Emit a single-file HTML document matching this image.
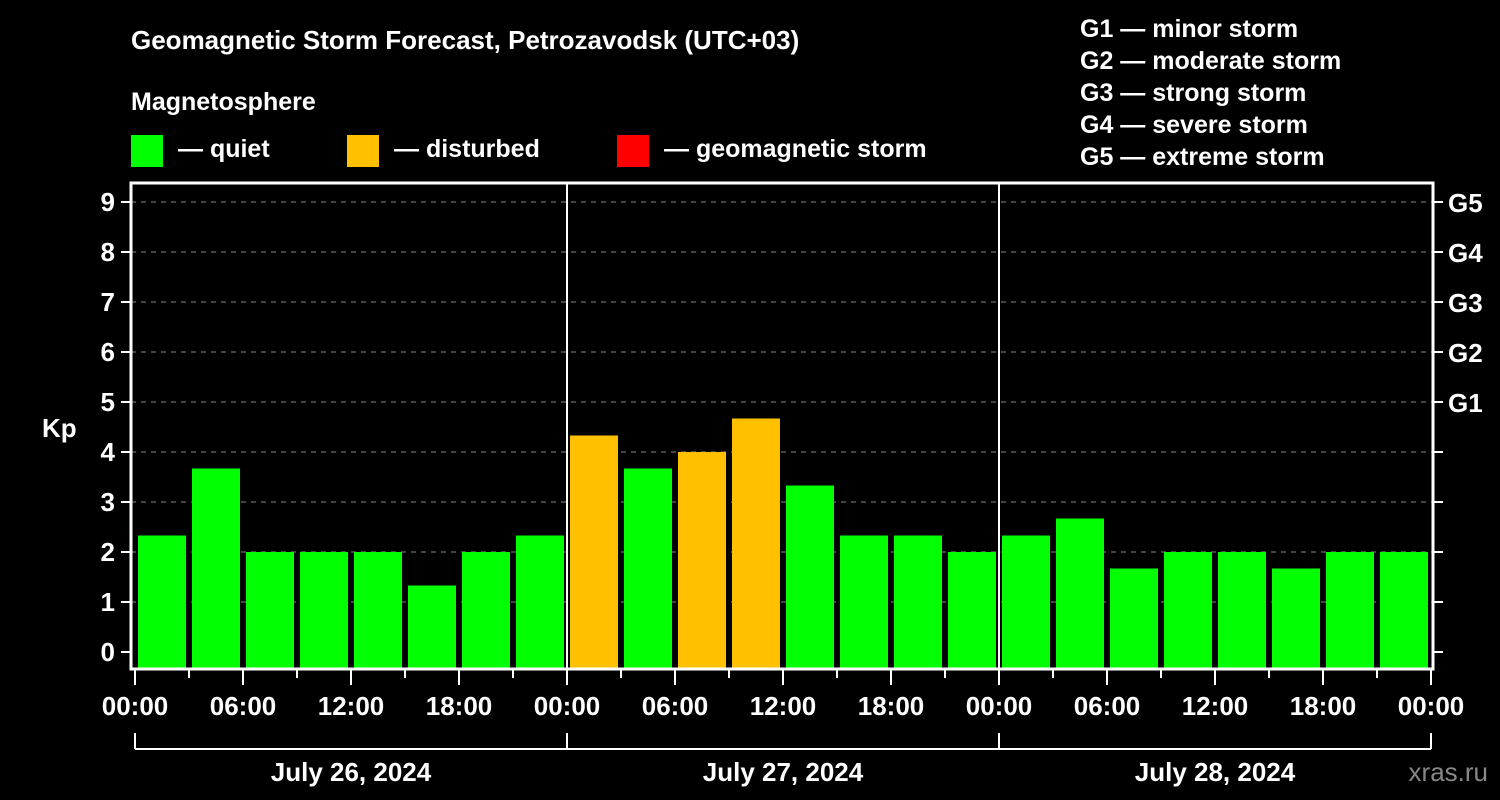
<!DOCTYPE html>
<html><head><meta charset="utf-8"><style>
body{margin:0;background:#000;width:1500px;height:800px;overflow:hidden}
svg{display:block;font-family:"Liberation Sans",sans-serif;font-weight:bold}
</style></head><body>
<svg id="c" width="1500" height="800">
<rect width="1500" height="800" fill="#000"/>
<text x="131" y="49" fill="#fff" font-size="26">Geomagnetic Storm Forecast, Petrozavodsk (UTC+03)</text>
<text x="131" y="110" fill="#fff" font-size="25">Magnetosphere</text>
<g><rect x="131" y="135" width="32" height="32" fill="#00ff00"/><text x="178" y="157" fill="#fff" font-size="25">— quiet</text></g>
<g><rect x="347" y="135" width="32" height="32" fill="#ffc000"/><text x="394" y="157" fill="#fff" font-size="25">— disturbed</text></g>
<g><rect x="617" y="135" width="32" height="32" fill="#ff0000"/><text x="664" y="157" fill="#fff" font-size="25">— geomagnetic storm</text></g>
<g fill="#fff" font-size="25">
<text x="1080" y="37">G1 — minor storm</text>
<text x="1080" y="69">G2 — moderate storm</text>
<text x="1080" y="101">G3 — strong storm</text>
<text x="1080" y="133">G4 — severe storm</text>
<text x="1080" y="165">G5 — extreme storm</text>
</g>
<text x="42" y="437" fill="#fff" font-size="26">Kp</text>
<text x="1488" y="781" fill="#888" font-size="26" text-anchor="end" font-weight="normal">xras.ru</text>
<g id="plot"></g>
</svg>
<script>
const values=[2.33,3.67,2,2,2,1.33,2,2.33, 4.33,3.67,4,4.67,3.33,2.33,2.33,2, 2.33,2.67,1.67,2,2,1.67,2,2];
const days=["July 26, 2024","July 27, 2024","July 28, 2024"];
const hourLabels=["00:00","06:00","12:00","18:00"];
const gLabels=["G1","G2","G3","G4","G5"];
const yTicks=[0,1,2,3,4,5,6,7,8,9];
const NS="http://www.w3.org/2000/svg";
const g=document.getElementById('plot');
const X0=135,DAY=432,L=131,R=1433,T=183,B=669;
const xs=h=>X0+h*DAY/24;
const ys=v=>652-v*50;
function mk(t,a){const e=document.createElementNS(NS,t);for(const k in a)e.setAttribute(k,a[k]);g.appendChild(e);return e;}
function col(v){return v>=5?'#ff0000':v>=4?'#ffc000':'#00ff00';}
yTicks.forEach(v=>{
 if(v>0){const l=mk('line',{x1:L,x2:R,y1:ys(v),y2:ys(v),stroke:'#888','stroke-dasharray':'5,5','stroke-width':1});
 
 }
 const tk=mk('line',{x1:L-10,x2:L,y1:ys(v),y2:ys(v),stroke:'#fff','stroke-width':2});
 
 
 const tr=mk('line',{x1:R,x2:R+10,y1:ys(v),y2:ys(v),stroke:'#fff','stroke-width':2});
 
 
 const t=mk('text',{x:L-16,y:ys(v)+9,fill:'#fff','font-size':26,'text-anchor':'end'});t.textContent=v;
 
 
});
gLabels.forEach((s,i)=>{const t=mk('text',{x:R+15,y:ys(5+i)+10,fill:'#fff','font-size':26});t.textContent=s;
 
 });
values.forEach((v,i)=>{const x=xs(i*3)+3,y=ys(v);
 const r=mk('rect',{x:x,y:y,width:DAY/8-6,height:B-1-y,fill:col(v)});
 
 });
[1,2].forEach(d=>{const l=mk('line',{x1:xs(d*24),x2:xs(d*24),y1:T,y2:B,stroke:'#fff','stroke-width':2});
 
 });
const f=mk('rect',{x:L,y:T,width:R-L,height:B-T,fill:'none',stroke:'#fff','stroke-width':3});


for(let h=0;h<=72;h+=3){const major=h%6==0;
 const l=mk('line',{x1:xs(h),x2:xs(h),y1:B,y2:B+(major?16:9),stroke:'#fff','stroke-width':2});
 
 
 if(major){const t=mk('text',{x:xs(h),y:715,fill:'#fff','font-size':26,'text-anchor':'middle'});t.textContent=hourLabels[(h%24)/6];
 
 }}
const bl=mk('line',{x1:xs(0),x2:xs(72),y1:749,y2:749,stroke:'#fff','stroke-width':2});


for(let d=0;d<=3;d++){const l=mk('line',{x1:xs(d*24),x2:xs(d*24),y1:733,y2:749,stroke:'#fff','stroke-width':2});
 
 }
days.forEach((s,d)=>{const t=mk('text',{x:xs(d*24+12),y:781,fill:'#fff','font-size':26,'text-anchor':'middle'});t.textContent=s;
 
 });
</script>
</body></html>
